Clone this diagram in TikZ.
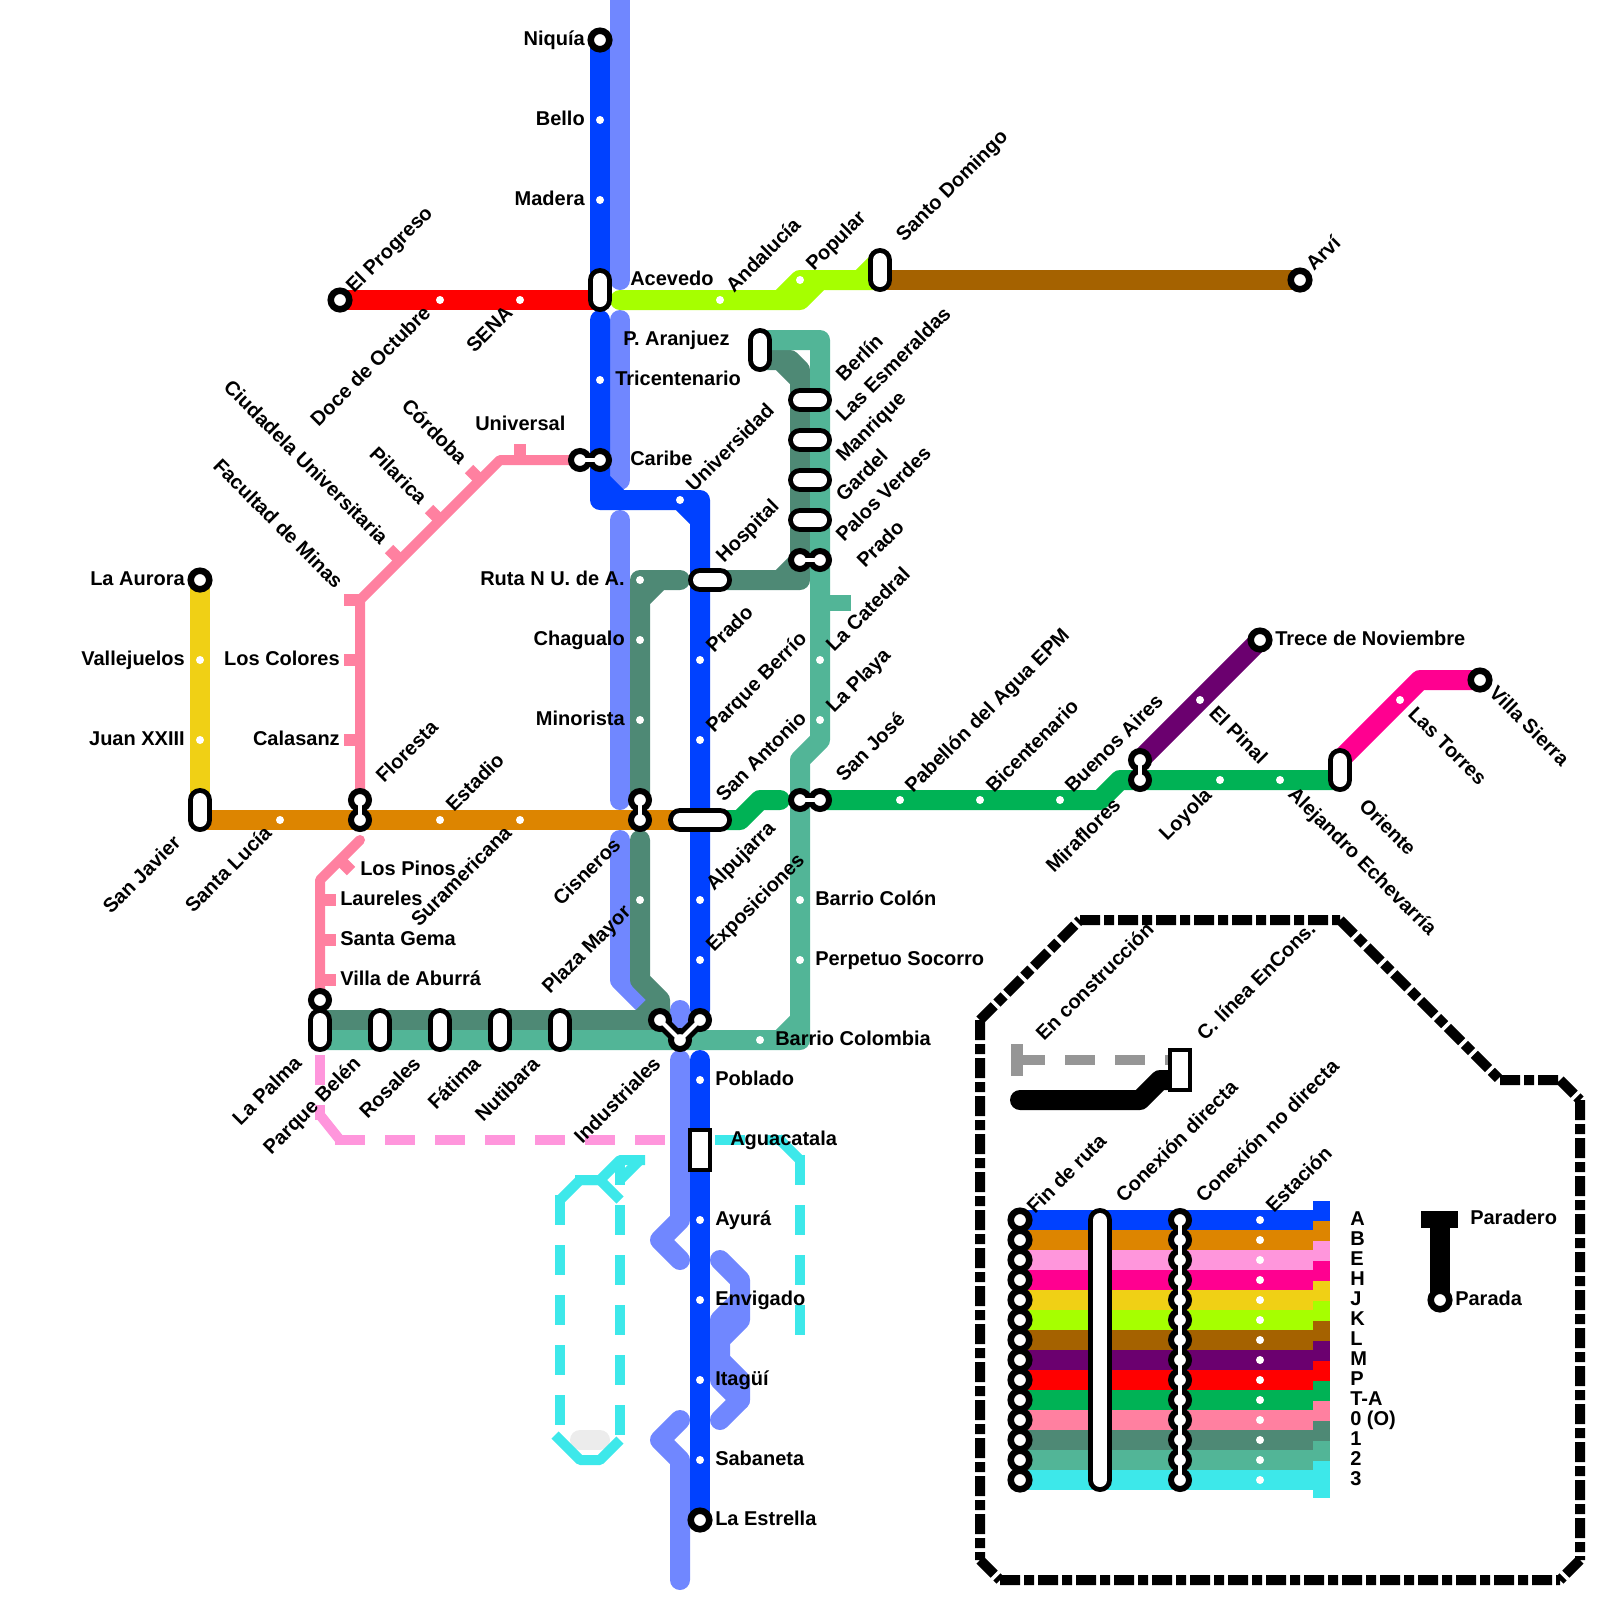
\documentclass[tikz,border=0pt]{standalone}
\usepackage{fontspec}
\setmainfont{Liberation Sans}
\definecolor{colA}{RGB}{0,65,255}
\definecolor{colAlt}{RGB}{112,135,255}
\definecolor{colB}{RGB}{221,133,0}
\definecolor{colE}{RGB}{255,150,220}
\definecolor{colH}{RGB}{255,0,144}
\definecolor{colJ}{RGB}{240,208,21}
\definecolor{colK}{RGB}{166,255,0}
\definecolor{colL}{RGB}{165,98,0}
\definecolor{colM}{RGB}{107,0,111}
\definecolor{colP}{RGB}{255,0,0}
\definecolor{colT}{RGB}{0,178,85}
\definecolor{colO}{RGB}{255,128,160}
\definecolor{colUno}{RGB}{78,137,117}
\definecolor{colDos}{RGB}{82,181,151}
\definecolor{colTres}{RGB}{61,232,234}
\definecolor{colObra}{RGB}{150,150,150}
\tikzset{
  metro/.style={line width=15pt,line cap=round,line join=round},
  band/.style={line width=15pt},
  cable/.style={line width=7.5pt,line join=round},
  cablend/.style={cable,dash pattern=on 22.5pt off 15pt},
  tick/.style={line width=9pt},
  pill/.style={draw=black,double=white,line width=3.75pt,double distance=10.5pt,line cap=round},
  boxstop/.style={draw=black,fill=white,line width=3pt},
  dot/.style={circle,fill=white,inner sep=0pt,minimum size=6pt},
  lobe/.style={circle,draw=black,fill=white,line width=4.5pt,inner sep=0pt,outer sep=0pt,minimum size=13.5pt},
  ring/.style={circle,draw=black,fill=white,line width=4.9pt,inner sep=0pt,outer sep=0pt,minimum size=13.9pt},
  neckout/.style={line width=10.5pt,black},
  neckin/.style={line width=3pt,white},
  border/.style={line width=7.5pt,dash pattern=on 15pt off 3pt on 7.5pt off 3pt},
  stationtext/.style={inner sep=0pt,font=\fontsize{15}{18}\selectfont\bfseries},
}
\newcommand{\conexion}[4]{%
  \coordinate (#1) at (#2); \coordinate (#3) at (#4);
  \draw [neckout] (#1) -- (#3);
  \node [lobe] (#1ring) at (#1) {};
  \node [lobe] (#3ring) at (#3) {};
  \draw [neckin] (#1) -- (#3);
}
\begin{document}
\begin{tikzpicture}[x=0.75pt,y=0.75pt,yscale=-1,xscale=1]
\useasboundingbox (0,0) rectangle (1600,1600);

%Shape: Line A alterna
\draw [metro,colAlt] (620,-20) -- (620,280);
\draw [metro,colAlt] (620,320) -- (620,480);
\draw [metro,colAlt] (620,520) -- (620,800);
\draw [metro,colAlt] (620,840) -- (620,980) -- (650,1010);
\draw [metro,colAlt] (680,1010) -- (680,1030);
\draw [metro,colAlt] (680,1060) -- (680,1220) -- (660,1240) -- (680,1260);
\draw [metro,colAlt] (720,1260) -- (740,1280) -- (740,1320) -- (720,1340) -- (720,1380) -- (740,1400) -- (720,1420);
\draw [metro,colAlt] (740,1300) -- (720,1320) -- (720,1340);
\draw [metro,colAlt] (720,1360) -- (740,1380) -- (740,1400);
\draw [metro,colAlt] (680,1420) -- (660,1440) -- (680,1460) -- (680,1580);
%Shape: Line 1
\draw [metro,colUno] (680,580) -- (640,580) -- (640,800) (660,580) -- (640,600);
\draw [metro,colUno] (640,840) -- (640,980) -- (660,1000) -- (660,1020) -- (320,1020) (660,1000) -- (640,1020);
\draw [metro,colUno] (720,580) -- (800,580) -- (800,370) -- (790,360) -- (760,360) (780,580) -- (800,560) (780,360) -- (800,380);
%Shape: Line 2
\draw [metro,colDos] (760,340) -- (820,340) -- (820,740) -- (800,760) -- (800,1040) -- (320,1040) (800,1020) -- (780,1040);
\draw [line width=12pt,colDos] (820,603) -- (851,603);
%Shape: Line B and J
\draw [metro,colB] (200,820) -- (700,820);
\draw [metro,colJ] (200,580) -- (200,810);
%Shape: Line 0
\draw [cable,line cap=round,colO] (580,460) -- (500,460) -- (360,600) -- (360,790);
\draw [cable,line cap=round,colO] (360,840) -- (320,880) -- (320,1000);
\draw [tick,colO] (520,444) -- (520,460);
\draw [tick,colO] (480,480) -- (469,469);
\draw [tick,colO] (440,520) -- (429,509);
\draw [tick,colO] (400,560) -- (389,549);
\draw [tick,colO] (344,600) -- (360,600);
\draw [tick,colO] (344,660) -- (360,660);
\draw [tick,colO] (344,740) -- (360,740);
\draw [tick,colO] (340,860) -- (351,871);
\draw [tick,colO] (320,900) -- (336,900);
\draw [tick,colO] (320,940) -- (336,940);
\draw [tick,colO] (320,980) -- (336,980);
%Shape: Line P, K, L
\draw [metro,colP] (340,300) -- (600,300);
\draw [metro,colK] (620,300) -- (800,300) -- (820,280) -- (860,280) -- (880,260) (780,300) -- (800,280) -- (820,280) (860,280) -- (880,280);
\draw [metro,colL] (880,280) -- (1300,280);
%Shape: Line M, H, T-A
\draw [metro,colM] (1140,760) -- (1260,640);
\draw [metro,colH] (1340,760) -- (1420,680) -- (1480,680);
\draw [metro,colT] (720,820) -- (740,820) -- (760,800) -- (780,800);
\draw [metro,colT] (820,800) -- (1100,800) -- (1120,780) -- (1340,780);
%Shape: Line A
\draw [metro,colA] (600,40) -- (600,290);
\draw [metro,colA] (600,320) -- (600,500) -- (700,500) -- (700,1010) (600,480) -- (620,500) (680,500) -- (700,520);
\draw [metro,colA] (700,1060) -- (700,1520);
%Shape: Line E en obra
\draw [cablend,colE] (320,1055) -- (320,1120);
\draw [cable,colE] (320,1115) -- (340,1140);
\draw [cablend,colE] (335,1140) -- (665,1140);
%Shape: Line 3 en obra
\draw [cablend,colTres] (715,1140) -- (785,1140);
\draw [cable,colTres] (778,1138) -- (800,1160);
\draw [cablend,colTres] (800,1155) -- (800,1335);
\draw [cablend,colTres] (560,1195) -- (560,1425);
\draw [cablend,colTres] (620,1205) -- (620,1435);
\draw [cable,colTres] (560,1200) -- (580,1180) -- (605,1180);
\draw [cable,colTres] (575,1180) -- (600,1180) -- (620,1160) -- (645,1160);
\draw [cable,colTres] (600,1180) -- (620,1200);
\draw [cable,colTres] (620,1185) -- (620,1165);
\draw [cable,colTres] (620,1180) -- (640,1160);
\draw [metro,color={rgb,255:red,236;green,236;blue,236}] (580,1440) -- (600,1440);
\draw [cable,colTres] (555,1435) -- (580,1460) -- (600,1460) -- (620,1440);

%Shape: Parada
\node [dot] (bello) at (600,120) {};
\node [dot] (madera) at (600,200) {};
\node [dot] (tricentenario) at (600,380) {};
\node [dot] (doce) at (440,300) {};
\node [dot] (sena) at (520,300) {};
\node [dot] (andalucia) at (720,300) {};
\node [dot] (popular) at (800,280) {};
\node [dot] (universidad) at (680,500) {};
\node [dot] (pradoa) at (700,660) {};
\node [dot] (berrio) at (700,740) {};
\node [dot] (alpujarra) at (700,900) {};
\node [dot] (exposiciones) at (700,960) {};
\node [dot] (poblado) at (700,1080) {};
\node [dot] (ayura) at (700,1220) {};
\node [dot] (envigado) at (700,1300) {};
\node [dot] (itagui) at (700,1380) {};
\node [dot] (sabaneta) at (700,1460) {};
\node [dot] (vallejuelos) at (200,660) {};
\node [dot] (juan) at (200,740) {};
\node [dot] (lucia) at (280,820) {};
\node [dot] (estadio) at (440,820) {};
\node [dot] (suramericana) at (520,820) {};
\node [dot] (rutan) at (640,580) {};
\node [dot] (chagualo) at (640,640) {};
\node [dot] (minorista) at (640,720) {};
\node [dot] (plaza) at (640,900) {};
\node [dot] (catedral) at (820,660) {};
\node [dot] (playa) at (820,720) {};
\node [dot] (colon) at (800,900) {};
\node [dot] (socorro) at (800,960) {};
\node [dot] (colombia) at (760,1040) {};
\node [dot] (pabellon) at (900,800) {};
\node [dot] (bicentenario) at (980,800) {};
\node [dot] (aires) at (1060,800) {};
\node [dot] (pinal) at (1200,700) {};
\node [dot] (loyola) at (1220,780) {};
\node [dot] (alejandro) at (1280,780) {};
\node [dot] (torres) at (1400,700) {};

%Shape: Fin de ruta
\node [ring] (niquia) at (600,40) {};
\node [ring] (progreso) at (340,300) {};
\node [ring] (arvi) at (1300,280) {};
\node [ring] (aurora) at (200,580) {};
\node [ring] (trece) at (1260,640) {};
\node [ring] (villa) at (1480,680) {};
\node [ring] (estrella) at (700,1520) {};
\node [lobe] (aburra) at (320,1000) {};

%Shape: Conexion directa
\draw [pill] (600,280) -- (600,300);
\draw [pill] (880,260) -- (880,280);
\draw [pill] (760,340) -- (760,360);
\draw [pill] (800,400) -- (820,400);
\draw [pill] (800,440) -- (820,440);
\draw [pill] (800,480) -- (820,480);
\draw [pill] (800,520) -- (820,520);
\draw [pill] (700,580) -- (720,580);
\draw [pill] (680,820) -- (720,820);
\draw [pill] (200,800) -- (200,820);
\draw [pill] (320,1020) -- (320,1040);
\draw [pill] (380,1020) -- (380,1040);
\draw [pill] (440,1020) -- (440,1040);
\draw [pill] (500,1020) -- (500,1040);
\draw [pill] (560,1020) -- (560,1040);
\draw [pill] (1340,760) -- (1340,780);
\draw [boxstop] (690,1130) rectangle (710,1170);

%Shape: Conexion no directa
\conexion{uni}{580,460}{car}{600,460}
\conexion{prb}{800,560}{prc}{820,560}
\conexion{flo}{360,800}{flp}{360,820}
\conexion{cis}{640,800}{cit}{640,820}
\conexion{sja}{800,800}{sjb}{820,800}
\conexion{bue}{1140,760}{mir}{1140,780}
\coordinate (inda) at (660,1020);
\coordinate (indb) at (680,1040);
\coordinate (indc) at (700,1020);
\draw [neckout,line join=round] (inda) -- (indb) -- (indc);
\node [lobe] (indaring) at (inda) {};
\node [lobe] (indbring) at (indb) {};
\node [lobe] (indcring) at (indc) {};
\draw [neckin,line join=round] (inda) -- (indb) -- (indc);

%Shape: Legend border
\draw [border] (980,1020) -- (1080,920) (1080,920) -- (1340,920) (1340,920) -- (1500,1080) (1500,1080) -- (1560,1080) (1560,1080) -- (1580,1100) (1580,1100) -- (1580,1560) (1580,1560) -- (1560,1580) (1000,1580) -- (1560,1580) (980,1560) -- (1000,1580) (980,1020) -- (980,1560);
%Shape: Legend construction
\draw [tick,colObra] (1017,1044) -- (1017,1076);
\draw [cablend,colObra] (1015,1060) -- (1180,1060);
\draw [metro] (1020,1100) -- (1140,1100) -- (1160,1080) -- (1180,1080);
\draw [boxstop] (1170,1050) rectangle (1190,1090);
%Shape: Legend bands
\draw [band,colA] (1020,1220) -- (1313,1220);
\draw [band,colB] (1020,1240) -- (1313,1240);
\draw [band,colE] (1020,1260) -- (1313,1260);
\draw [band,colH] (1020,1280) -- (1313,1280);
\draw [band,colJ] (1020,1300) -- (1313,1300);
\draw [band,colK] (1020,1320) -- (1313,1320);
\draw [band,colL] (1020,1340) -- (1313,1340);
\draw [band,colM] (1020,1360) -- (1313,1360);
\draw [band,colP] (1020,1380) -- (1313,1380);
\draw [band,colT] (1020,1400) -- (1313,1400);
\draw [band,colO] (1020,1420) -- (1313,1420);
\draw [band,colUno] (1020,1440) -- (1313,1440);
\draw [band,colDos] (1020,1460) -- (1313,1460);
\draw [band,colTres] (1020,1480) -- (1313,1480);
%Shape: Legend swatches
\fill [colA] (1313,1201) rectangle (1330,1221);
\fill [colB] (1313,1221) rectangle (1330,1241);
\fill [colE] (1313,1241) rectangle (1330,1261);
\fill [colH] (1313,1261) rectangle (1330,1281);
\fill [colJ] (1313,1281) rectangle (1330,1301);
\fill [colK] (1313,1301) rectangle (1330,1321);
\fill [colL] (1313,1321) rectangle (1330,1341);
\fill [colM] (1313,1341) rectangle (1330,1361);
\fill [colP] (1313,1361) rectangle (1330,1381);
\fill [colT] (1313,1381) rectangle (1330,1401);
\fill [colO] (1313,1401) rectangle (1330,1421);
\fill [colUno] (1313,1421) rectangle (1330,1441);
\fill [colDos] (1313,1441) rectangle (1330,1461);
\fill [colTres] (1313,1461) rectangle (1330,1498);
%Shape: Legend fin de ruta
\node [ring] (fin1) at (1020,1220) {};
\node [ring] (fin2) at (1020,1240) {};
\node [ring] (fin3) at (1020,1260) {};
\node [ring] (fin4) at (1020,1280) {};
\node [ring] (fin5) at (1020,1300) {};
\node [ring] (fin6) at (1020,1320) {};
\node [ring] (fin7) at (1020,1340) {};
\node [ring] (fin8) at (1020,1360) {};
\node [ring] (fin9) at (1020,1380) {};
\node [ring] (fin10) at (1020,1400) {};
\node [ring] (fin11) at (1020,1420) {};
\node [ring] (fin12) at (1020,1440) {};
\node [ring] (fin13) at (1020,1460) {};
\node [ring] (fin14) at (1020,1480) {};
\draw [pill] (1100,1220) -- (1100,1480);
%Shape: Legend conexion no directa
\coordinate (ndtop) at (1180,1220);
\coordinate (ndbot) at (1180,1480);
\draw [neckout] (ndtop) -- (ndbot);
\node [lobe] (nd1) at (1180,1220) {};
\node [lobe] (nd2) at (1180,1240) {};
\node [lobe] (nd3) at (1180,1260) {};
\node [lobe] (nd4) at (1180,1280) {};
\node [lobe] (nd5) at (1180,1300) {};
\node [lobe] (nd6) at (1180,1320) {};
\node [lobe] (nd7) at (1180,1340) {};
\node [lobe] (nd8) at (1180,1360) {};
\node [lobe] (nd9) at (1180,1380) {};
\node [lobe] (nd10) at (1180,1400) {};
\node [lobe] (nd11) at (1180,1420) {};
\node [lobe] (nd12) at (1180,1440) {};
\node [lobe] (nd13) at (1180,1460) {};
\node [lobe] (nd14) at (1180,1480) {};
\draw [neckin] (ndtop) -- (ndbot);
%Shape: Legend estacion
\node [dot] (est1) at (1260,1220) {};
\node [dot] (est2) at (1260,1240) {};
\node [dot] (est3) at (1260,1260) {};
\node [dot] (est4) at (1260,1280) {};
\node [dot] (est5) at (1260,1300) {};
\node [dot] (est6) at (1260,1320) {};
\node [dot] (est7) at (1260,1340) {};
\node [dot] (est8) at (1260,1360) {};
\node [dot] (est9) at (1260,1380) {};
\node [dot] (est10) at (1260,1400) {};
\node [dot] (est11) at (1260,1420) {};
\node [dot] (est12) at (1260,1440) {};
\node [dot] (est13) at (1260,1460) {};
\node [dot] (est14) at (1260,1480) {};
%Shape: Legend paradero
\draw [line width=12.75pt] (1421,1219) -- (1458,1219);
\draw [metro] (1440,1222) -- (1440,1300);
\node [ring] (parada) at (1440,1300) {};

% Text Node
\draw (585,45) node [stationtext,anchor=base east] (niquiatxt) {Niquía};
\draw (585,125) node [stationtext,anchor=base east] (bellotxt) {Bello};
\draw (585,205) node [stationtext,anchor=base east] (maderatxt) {Madera};
\draw (630,285) node [stationtext,anchor=base west] (acevedotxt) {Acevedo};
\draw (623,345) node [stationtext,anchor=base west] (aranjueztxt) {P. Aranjuez};
\draw (615,385) node [stationtext,anchor=base west] (tricentxt) {Tricentenario};
\draw (475,430) node [stationtext,anchor=base west] (universaltxt) {Universal};
\draw (630,465) node [stationtext,anchor=base west] (caribetxt) {Caribe};
\draw (1275,645) node [stationtext,anchor=base west] (trecetxt) {Trece de Noviembre};
\draw (185,585) node [stationtext,anchor=base east] (auroratxt) {La Aurora};
\draw (185,665) node [stationtext,anchor=base east] (vallejuelostxt) {Vallejuelos};
\draw (185,745) node [stationtext,anchor=base east] (juantxt) {Juan XXIII};
\draw (340,665) node [stationtext,anchor=base east] (colorestxt) {Los Colores};
\draw (340,745) node [stationtext,anchor=base east] (calasanztxt) {Calasanz};
\draw (625,585) node [stationtext,anchor=base east] (rutantxt) {Ruta N U. de A.};
\draw (625,645) node [stationtext,anchor=base east] (chagualotxt) {Chagualo};
\draw (625,725) node [stationtext,anchor=base east] (minoristatxt) {Minorista};
\draw (360,875) node [stationtext,anchor=base west] (pinostxt) {Los Pinos};
\draw (340,905) node [stationtext,anchor=base west] (laurelestxt) {Laureles};
\draw (340,945) node [stationtext,anchor=base west] (gematxt) {Santa Gema};
\draw (340,985) node [stationtext,anchor=base west] (aburratxt) {Villa de Aburrá};
\draw (815,905) node [stationtext,anchor=base west] (colontxt) {Barrio Colón};
\draw (815,965) node [stationtext,anchor=base west] (socorrotxt) {Perpetuo Socorro};
\draw (775,1045) node [stationtext,anchor=base west] (colombiatxt) {Barrio Colombia};
\draw (715,1085) node [stationtext,anchor=base west] (pobladotxt) {Poblado};
\draw (730,1145) node [stationtext,anchor=base west] (aguacatalatxt) {Aguacatala};
\draw (715,1225) node [stationtext,anchor=base west] (ayuratxt) {Ayurá};
\draw (715,1305) node [stationtext,anchor=base west] (envigadotxt) {Envigado};
\draw (715,1385) node [stationtext,anchor=base west] (itaguitxt) {Itagüí};
\draw (715,1465) node [stationtext,anchor=base west] (sabanetatxt) {Sabaneta};
\draw (715,1525) node [stationtext,anchor=base west] (estrellatxt) {La Estrella};
% Text Node
\draw (354,294) node [stationtext,anchor=base west,rotate=45] (progresotxt) {El Progreso};
\draw (734,294) node [stationtext,anchor=base west,rotate=45] (andaluciatxt) {Andalucía};
\draw (814,272) node [stationtext,anchor=base west,rotate=45] (populartxt) {Popular};
\draw (904,243) node [stationtext,anchor=base west,rotate=45] (domingotxt) {Santo Domingo};
\draw (1314,272) node [stationtext,anchor=base west,rotate=45] (arvitxt) {Arví};
\draw (384,784) node [stationtext,anchor=base west,rotate=45] (florestatxt) {Floresta};
\draw (454,813) node [stationtext,anchor=base west,rotate=45] (estadiotxt) {Estadio};
\draw (724,564) node [stationtext,anchor=base west,rotate=45] (hospitaltxt) {Hospital};
\draw (694,493) node [stationtext,anchor=base west,rotate=45] (universidadtxt) {Universidad};
\draw (714,654) node [stationtext,anchor=base west,rotate=45] (pradoatxt) {Prado};
\draw (714,734) node [stationtext,anchor=base west,rotate=45] (berriotxt) {Parque Berrío};
\draw (724,803) node [stationtext,anchor=base west,rotate=45] (antoniotxt) {San Antonio};
\draw (714,892) node [stationtext,anchor=base west,rotate=45] (alpujarratxt) {Alpujarra};
\draw (714,953) node [stationtext,anchor=base west,rotate=45] (exposicionestxt) {Exposiciones};
\draw (844,383) node [stationtext,anchor=base west,rotate=45] (berlintxt) {Berlín};
\draw (844,423) node [stationtext,anchor=base west,rotate=45] (esmeraldastxt) {Las Esmeraldas};
\draw (844,463) node [stationtext,anchor=base west,rotate=45] (manriquetxt) {Manrique};
\draw (844,503) node [stationtext,anchor=base west,rotate=45] (gardeltxt) {Gardel};
\draw (844,543) node [stationtext,anchor=base west,rotate=45] (palostxt) {Palos Verdes};
\draw (865,569) node [stationtext,anchor=base west,rotate=45] (pradoctxt) {Prado};
\draw (834,653) node [stationtext,anchor=base west,rotate=45] (catedraltxt) {La Catedral};
\draw (834,714) node [stationtext,anchor=base west,rotate=45] (playatxt) {La Playa};
\draw (844,783) node [stationtext,anchor=base west,rotate=45] (josetxt) {San José};
\draw (913,794) node [stationtext,anchor=base west,rotate=45] (pabellontxt) {Pabellón del Agua EPM};
\draw (994,794) node [stationtext,anchor=base west,rotate=45] (bicentxt) {Bicentenario};
\draw (1073,794) node [stationtext,anchor=base west,rotate=45] (airestxt) {Buenos Aires};
% Text Node
\draw (432,314) node [stationtext,anchor=base east,rotate=45] (docetxt) {Doce de Octubre};
\draw (514,314) node [stationtext,anchor=base east,rotate=45] (senatxt) {SENA};
\draw (182,844) node [stationtext,anchor=base east,rotate=45] (javiertxt) {San Javier};
\draw (273,834) node [stationtext,anchor=base east,rotate=45] (luciatxt) {Santa Lucía};
\draw (513,834) node [stationtext,anchor=base east,rotate=45] (suramericanatxt) {Suramericana};
\draw (622,846) node [stationtext,anchor=base east,rotate=45] (cisnerostxt) {Cisneros};
\draw (632,913) node [stationtext,anchor=base east,rotate=45] (plazatxt) {Plaza Mayor};
\draw (662,1065) node [stationtext,anchor=base east,rotate=45] (industrialestxt) {Industriales};
\draw (303,1064) node [stationtext,anchor=base east,rotate=45] (palmatxt) {La Palma};
\draw (362,1065) node [stationtext,anchor=base east,rotate=45] (belentxt) {Parque Belén};
\draw (422,1065) node [stationtext,anchor=base east,rotate=45] (rosalestxt) {Rosales};
\draw (482,1065) node [stationtext,anchor=base east,rotate=45] (fatimatxt) {Fátima};
\draw (541,1065) node [stationtext,anchor=base east,rotate=45] (nutibaratxt) {Nutibara};
\draw (1122,806) node [stationtext,anchor=base east,rotate=45] (mirafloretxt) {Miraflores};
\draw (1213,796) node [stationtext,anchor=base east,rotate=45] (loyolatxt) {Loyola};
% Text Node
\draw (335,590) node [stationtext,anchor=base east,rotate=-45] (facultadtxt) {Facultad de Minas};
\draw (380,546) node [stationtext,anchor=base east,rotate=-45] (ciudadelatxt) {Ciudadela Universitaria};
\draw (419,506) node [stationtext,anchor=base east,rotate=-45] (pilaricatxt) {Pilarica};
\draw (459,466) node [stationtext,anchor=base east,rotate=-45] (cordobatxt) {Córdoba};
\draw (1208,714) node [stationtext,anchor=base west,rotate=-45] (pinaltxt) {El Pinal};
\draw (1287,795) node [stationtext,anchor=base west,rotate=-45] (alejandrotxt) {Alejandro Echevarría};
\draw (1407,715) node [stationtext,anchor=base west,rotate=-45] (torrestxt) {Las Torres};
\draw (1488,694) node [stationtext,anchor=base west,rotate=-45] (sierratxt) {Villa Sierra};
\draw (1358,807) node [stationtext,anchor=base west,rotate=-45] (orientetxt) {Oriente};
% Text Node
\draw (1044,1042) node [stationtext,anchor=base west,rotate=45] (obratxt) {En construcción};
\draw (1205,1042) node [stationtext,anchor=base west,rotate=45] (clineatxt) {C. línea EnCons.};
\draw (1035,1215) node [stationtext,anchor=base west,rotate=45] (fintxt) {Fin de ruta};
\draw (1124,1204) node [stationtext,anchor=base west,rotate=45] (directatxt) {Conexión directa};
\draw (1204,1204) node [stationtext,anchor=base west,rotate=45] (nodirectatxt) {Conexión no directa};
\draw (1274,1214) node [stationtext,anchor=base west,rotate=45] (estaciontxt) {Estación};
\draw (1470,1224) node [stationtext,anchor=base west] (paraderotxt) {Paradero};
\draw (1455,1305) node [stationtext,anchor=base west] (paradatxt) {Parada};
\draw (1350,1225) node [stationtext,anchor=base west] (lega) {A};
\draw (1350,1245) node [stationtext,anchor=base west] (legb) {B};
\draw (1350,1265) node [stationtext,anchor=base west] (lege) {E};
\draw (1350,1285) node [stationtext,anchor=base west] (legh) {H};
\draw (1350,1305) node [stationtext,anchor=base west] (legj) {J};
\draw (1350,1325) node [stationtext,anchor=base west] (legk) {K};
\draw (1350,1345) node [stationtext,anchor=base west] (legl) {L};
\draw (1350,1365) node [stationtext,anchor=base west] (legm) {M};
\draw (1350,1385) node [stationtext,anchor=base west] (legp) {P};
\draw (1350,1405) node [stationtext,anchor=base west] (legt) {T-A};
\draw (1350,1425) node [stationtext,anchor=base west] (lego) {0 (O)};
\draw (1350,1445) node [stationtext,anchor=base west] (leguno) {1};
\draw (1350,1465) node [stationtext,anchor=base west] (legdos) {2};
\draw (1350,1485) node [stationtext,anchor=base west] (legtres) {3};
\end{tikzpicture}
\end{document}
